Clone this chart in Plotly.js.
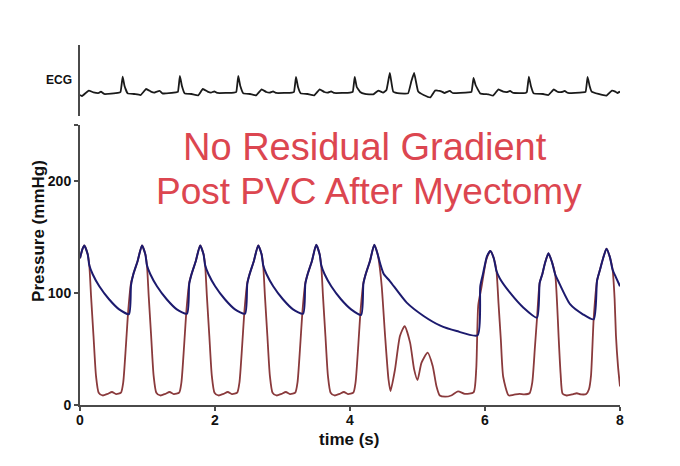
<!DOCTYPE html>
<html>
<head>
<meta charset="utf-8">
<script src="https://cdn.plot.ly/plotly-3.0.1.min.js"></script>
<style>
html,body{margin:0;padding:0;background:#fff;}
#chart{width:680px;height:466px;}
</style>
</head>
<body>
<div id="chart"></div>
<script>
// ---- Data ----
const xTicks = [0, 2, 4, 6, 8];
const yTicks = [0, 100, 200, 250];
const yTickText = ['0', '100', '200', ''];

// LV pressure (mmHg) vs time (s)
const lvTime = [0, 0.035, 0.064, 0.114, 0.138, 0.164, 0.200, 0.237, 0.277, 0.336, 0.410, 0.474, 0.534, 0.607, 0.640, 0.680, 0.716, 0.756, 0.790, 0.854,
  0.918, 0.968, 0.992, 1.018, 1.054, 1.091, 1.131, 1.190, 1.264, 1.328, 1.388, 1.469, 1.502, 1.542, 1.578, 1.618, 1.652, 1.716,
  1.780, 1.830, 1.854, 1.880, 1.916, 1.953, 1.993, 2.052, 2.126, 2.190, 2.250, 2.329, 2.362, 2.402, 2.438, 2.478, 2.512, 2.576,
  2.640, 2.690, 2.714, 2.740, 2.776, 2.813, 2.853, 2.912, 2.986, 3.050, 3.110, 3.189, 3.222, 3.262, 3.298, 3.338, 3.372, 3.436,
  3.500, 3.550, 3.574, 3.600, 3.636, 3.673, 3.713, 3.772, 3.846, 3.910, 3.970, 4.049, 4.082, 4.122, 4.158, 4.198, 4.232, 4.296,
  4.360, 4.410, 4.435, 4.470, 4.520, 4.570, 4.600, 4.667, 4.740, 4.810, 4.890, 4.950, 5.000, 5.060, 5.150, 5.225, 5.280, 5.330, 5.410, 5.500, 5.600, 5.700, 5.830, 5.870, 5.900, 5.950, 5.980, 6.020,
  6.080, 6.130, 6.170, 6.200, 6.235, 6.270, 6.350, 6.420, 6.510, 6.580, 6.660, 6.700, 6.740, 6.770, 6.810, 6.850, 6.890,
  6.940, 6.990, 7.040, 7.070, 7.090, 7.120, 7.150, 7.210, 7.300, 7.360, 7.420, 7.500, 7.540, 7.570, 7.610, 7.660, 7.700, 7.750,
  7.800, 7.850, 7.890, 7.920, 7.940, 7.970, 8.000];
const lvPressure = [131, 139, 142.5, 134.5, 124.7, 97, 61.6, 26, 11, 8.5, 10, 11.6, 9.8, 11, 20, 52.7, 85.4, 109, 116.7, 128.6,
  142.5, 134.5, 124.7, 97, 61.6, 26, 11, 8.5, 10, 11.6, 9.8, 11, 20, 52.7, 85.4, 109, 116.7, 128.6,
  142.5, 134.5, 124.7, 97, 61.6, 26, 11, 8.5, 10, 11.6, 9.8, 11, 20, 52.7, 85.4, 109, 116.7, 128.6,
  142.5, 134.5, 124.7, 97, 61.6, 26, 11, 8.5, 10, 11.6, 9.8, 11, 20, 52.7, 85.4, 109, 116.7, 128.6,
  143, 134.5, 124.7, 97, 61.6, 26, 11, 8.5, 10, 11.6, 9.8, 11, 20, 52.7, 85.4, 109, 116.7, 128.6,
  143, 134.5, 125.6, 106, 61.6, 23, 12.5, 31.8, 61.6, 70.5, 55.7, 31.8, 22.3, 37.8, 46.7, 34.8, 17, 8.5, 7.4, 8.5, 12.2, 10, 11.2, 32, 89, 106, 117, 130,
  137.5, 131, 119.6, 91, 58, 25, 8.6, 9, 10, 9.5, 10.5, 20, 52, 77, 109, 117, 127,
  135.4, 128, 116.7, 88, 61.6, 28, 10, 8.5, 9.5, 10.5, 9.5, 9.8, 14, 26, 77, 111, 120, 131,
  139.6, 132, 121, 95, 62, 35, 16.5];

// Aortic pressure (mmHg) vs time (s)
const aoTime = [0, 0.035, 0.064, 0.114, 0.138, 0.188, 0.286, 0.430, 0.580, 0.725, 0.756, 0.790, 0.854,
  0.918, 0.968, 0.992, 1.042, 1.140, 1.284, 1.434, 1.585, 1.618, 1.652, 1.716,
  1.780, 1.830, 1.854, 1.904, 2.002, 2.146, 2.296, 2.445, 2.478, 2.512, 2.576,
  2.640, 2.690, 2.714, 2.764, 2.862, 3.006, 3.156, 3.305, 3.338, 3.372, 3.436,
  3.500, 3.550, 3.574, 3.624, 3.722, 3.866, 4.016, 4.165, 4.198, 4.232, 4.296,
  4.360, 4.410, 4.455, 4.500, 4.590, 4.840, 5.090, 5.330, 5.580, 5.890, 5.930, 5.970, 6.030,
  6.080, 6.130, 6.170, 6.220, 6.370, 6.570, 6.770, 6.810, 6.850, 6.890,
  6.940, 6.990, 7.040, 7.090, 7.260, 7.450, 7.610, 7.660, 7.700, 7.750,
  7.800, 7.850, 7.890, 7.940, 8.000];
const aoPressure = [131, 139, 142.5, 134.5, 124.7, 116.7, 106, 94.4, 85.4, 81.2, 107, 116.7, 128.6,
  142.5, 134.5, 124.7, 116.7, 106, 94.4, 85.4, 81.5, 108, 116.7, 128.6,
  142.5, 134.5, 124.7, 116.7, 106, 94.4, 85.4, 81.5, 108, 116.7, 128.6,
  142.5, 134.5, 124.7, 116.7, 106, 94.4, 85.4, 81.5, 108, 116.7, 128.6,
  143, 134.5, 124.7, 116.7, 106, 94.4, 85.4, 80.5, 108, 116.7, 128.6,
  143, 134.5, 124.7, 117, 110.7, 91.4, 79.5, 71.1, 66, 62.2, 106, 117, 133,
  137.5, 131, 119.6, 113, 100.3, 86.9, 78, 109, 117, 127,
  135.4, 128, 116.7, 110, 90, 81, 76.5, 111, 120, 131,
  139.6, 132, 121, 114, 106];

// ECG (arbitrary units) vs time (s)
const ecgTime = [0, 0.03, 0.13, 0.2, 0.28, 0.31, 0.36, 0.56, 0.60, 0.632, 0.66, 0.706, 0.80, 0.90, 0.98, 1.05, 1.10, 1.13, 1.185, 1.22,
  1.42, 1.45, 1.48, 1.51, 1.55, 1.65, 1.75, 1.82, 1.89, 1.94, 1.99, 2.04, 2.28, 2.315, 2.345, 2.375, 2.42, 2.52, 2.61, 2.69,
  2.76, 2.81, 2.86, 2.91, 3.14, 3.17, 3.20, 3.23, 3.27, 3.37, 3.47, 3.55, 3.62, 3.67, 3.72, 3.77, 4.00, 4.04, 4.07, 4.10,
  4.15, 4.22, 4.345, 4.42, 4.49, 4.54, 4.59, 4.64, 4.74, 4.86, 4.91, 4.95, 5.01, 5.09, 5.19, 5.26, 5.30, 5.36, 5.40, 5.44,
  5.48, 5.52, 5.75, 5.80, 5.83, 5.86, 5.93, 6.05, 6.12, 6.20, 6.27, 6.33, 6.37, 6.42, 6.60, 6.62, 6.65, 6.68, 6.72, 6.86,
  6.94, 7.02, 7.08, 7.14, 7.18, 7.23, 7.44, 7.49, 7.52, 7.55, 7.58, 7.68, 7.80, 7.88, 7.93, 7.96, 8.0];
const ecgValue = [-0.1, -0.15, 0.12, 0.03, 0.0, 0.07, -0.05, 0.0, 0.05, 0.82, 0.35, -0.02, -0.05, -0.1, 0.2, 0.07, 0.02, 0.06, 0.1, -0.02,
  0.03, 0.05, 0.85, 0.35, -0.02, -0.05, -0.12, 0.2, 0.07, 0.02, 0.08, 0.0, 0.02, 0.05, 0.85, 0.35, -0.02, -0.05, -0.12, 0.18,
  0.05, 0.02, 0.08, 0.0, 0.02, 0.05, 0.8, 0.3, -0.02, -0.05, -0.12, 0.18, 0.05, 0.02, 0.08, 0.0, 0.02, 0.05, 0.8, 0.3,
  0.05, -0.05, -0.07, 0.12, 0.02, 0.15, 1.0, 0.07, -0.02, -0.02, 0.6, 1.0, 0.07, -0.1, -0.22, 0.12, 0.12, 0.07, 0.0, 0.06,
  0.1, 0.0, 0.03, 0.06, 0.75, 0.4, -0.02, -0.07, -0.13, 0.18, 0.07, 0.05, 0.1, 0.0, 0.0, 0.05, 0.82, 0.35, -0.02, -0.05,
  -0.1, 0.18, 0.05, 0.05, 0.1, 0.0, 0.03, 0.06, 0.8, 0.35, 0.07, -0.05, -0.13, 0.12, 0.07, 0.0, 0.07];

const titleLines = ['No Residual Gradient', 'Post PVC After Myectomy'];

// ---- Plot ----
const FONT = 'Liberation Sans, Arial, Helvetica, sans-serif';
const AXC = '#4a4a4a';

const traces = [
  {x: lvTime, y: lvPressure, xaxis: 'x', yaxis: 'y', mode: 'lines', name: 'LV',
   line: {color: '#8a3a3c', width: 1.8, shape: 'spline', smoothing: 0.6}, hoverinfo: 'skip'},
  {x: aoTime, y: aoPressure, xaxis: 'x', yaxis: 'y', mode: 'lines', name: 'Aorta',
   line: {color: '#1c1a6e', width: 2, shape: 'spline', smoothing: 0.6}, hoverinfo: 'skip'},
  {x: ecgTime, y: ecgValue, xaxis: 'x', yaxis: 'y2', mode: 'lines', name: 'ECG',
   line: {color: '#1a1a1a', width: 1.8, shape: 'spline', smoothing: 0.3}, hoverinfo: 'skip'}
];

const layout = {
  width: 680, height: 466,
  margin: {l: 80, r: 60, t: 45, b: 61},
  paper_bgcolor: '#ffffff', plot_bgcolor: '#ffffff',
  showlegend: false,
  font: {family: FONT, color: '#111'},
  xaxis: {
    range: [0, 8], tickvals: xTicks, ticktext: xTicks.map(String),
    showgrid: false, zeroline: false, showline: true, linecolor: AXC, linewidth: 2,
    ticks: 'outside', ticklen: 4, tickwidth: 2, tickcolor: AXC, ticklabelstandoff: -3,
    tickfont: {family: FONT, size: 14, weight: 'bold', color: '#111'},
    anchor: 'y', fixedrange: true
  },
  yaxis: {
    domain: [0, 0.7778], range: [0, 250], tickvals: yTicks, ticktext: yTickText,
    showgrid: false, zeroline: false, showline: true, linecolor: AXC, linewidth: 2,
    ticks: 'outside', ticklen: 4, tickwidth: 2, tickcolor: AXC,
    tickfont: {family: FONT, size: 14, weight: 'bold', color: '#111'},
    anchor: 'x', fixedrange: true
  },
  yaxis2: {
    domain: [0.8028, 1], range: [-1.15, 2.4],
    showgrid: false, zeroline: false, showline: true, linecolor: AXC, linewidth: 2,
    ticks: '', showticklabels: false, anchor: 'x', fixedrange: true
  },
  annotations: [
    {text: titleLines[0], xref: 'paper', yref: 'paper', x: 0.5278, y: 0.7167, xanchor: 'center', yanchor: 'middle',
     showarrow: false, font: {family: FONT, size: 38, color: '#dc4650'}},
    {text: titleLines[1], xref: 'paper', yref: 'paper', x: 0.536, y: 0.5917, xanchor: 'center', yanchor: 'middle',
     showarrow: false, font: {family: FONT, size: 37, color: '#dc4650'}},
    {text: 'Pressure (mmHg)', xref: 'paper', yref: 'paper', x: -0.078, y: 0.4833, xanchor: 'center', yanchor: 'middle',
     textangle: -90, showarrow: false, font: {family: FONT, size: 17, weight: 'bold', color: '#111'}},
    {text: 'time (s)', xref: 'paper', yref: 'paper', x: 0.498, y: -0.0972, xanchor: 'center', yanchor: 'middle',
     showarrow: false, font: {family: FONT, size: 17, weight: 'bold', color: '#111'}},
    {text: 'ECG', xref: 'paper', yref: 'paper', x: -0.0389, y: 0.9028, xanchor: 'center', yanchor: 'middle',
     showarrow: false, font: {family: FONT, size: 12, weight: 'bold', color: '#111'}}
  ]
};

Plotly.newPlot('chart', traces, layout, {displayModeBar: false, staticPlot: true});
</script>
</body>
</html>
